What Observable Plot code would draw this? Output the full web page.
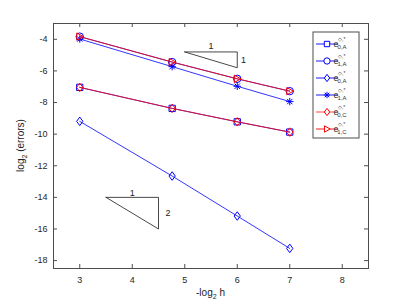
<!DOCTYPE html>
<html>
<head>
<meta charset="utf-8">
<script src="https://cdn.jsdelivr.net/npm/d3@7"></script>
<script src="https://cdn.jsdelivr.net/npm/@observablehq/plot@0.6"></script>
<style>
  html, body { margin: 0; padding: 0; background: #fff; }
  #chart { position: relative; width: 407px; height: 305px; }
</style>
</head>
<body>
<div id="chart"></div>
<script>
// ---- data ----
const xValues = [3, 4.76, 6, 7];
const e0A_square  = [-7.04, -8.37, -9.22, -9.87];
const e1A_circle  = [-3.83, -5.44, -6.50, -7.28];
const e0A_diamond = [-9.19, -12.65, -15.18, -17.23];
const e1A_star    = [-3.98, -5.73, -6.97, -7.94];
const e0C_diamond = [-7.04, -8.37, -9.22, -9.87];
const e1C_triangle = [-3.83, -5.44, -6.50, -7.28];

const seriesNames = ["e0A_sq", "e1A_circ", "e0A_dia", "e1A_star", "e0C_dia", "e1C_tri"];
const seriesSub = ["0,A", "1,A", "0,A", "1,A", "0,C", "1,C"];
const seriesColors = ["#0000ff", "#0000ff", "#0000ff", "#0000ff", "#ff0000", "#ff0000"];
const seriesValues = [e0A_square, e1A_circle, e0A_diamond, e1A_star, e0C_diamond, e1C_triangle];

const xTicks = [3, 4, 5, 6, 7, 8];
const yTicks = [-18, -16, -14, -12, -10, -8, -6, -4];
const xDomain = [2.5, 8.5];
const yDomain = [-18.5, -3];

// slope triangles
const tri1X = [5, 6, 6, 5];
const tri1Y = [-4.8, -4.8, -5.8, -4.8];
const tri1Labels = [{x: 5.5, y: -4.45, t: "1"}, {x: 6.12, y: -5.3, t: "1"}];
const tri2X = [3.5, 4.5, 4.5, 3.5];
const tri2Y = [-14, -14, -16, -14];
const tri2Labels = [{x: 4.0, y: -13.7, t: "1"}, {x: 4.68, y: -15.0, t: "2"}];

// ---- custom symbols ----
const symSquare = {draw(c, s) { const r = Math.sqrt(s / Math.PI) * 0.85; c.moveTo(-r, -r); c.lineTo(r, -r); c.lineTo(r, r); c.lineTo(-r, r); c.closePath(); }};
const symCircle = {draw(c, s) { const r = Math.sqrt(s / Math.PI); c.moveTo(r, 0); c.arc(0, 0, r, 0, 2 * Math.PI); }};
const symDiamond = {draw(c, s) { const r = Math.sqrt(s / Math.PI); c.moveTo(0, -r * 1.15); c.lineTo(r * 0.85, 0); c.lineTo(0, r * 1.15); c.lineTo(-r * 0.85, 0); c.closePath(); }};
const symStar = {draw(c, s) { const r = Math.sqrt(s / Math.PI); const q = r * 0.72;
  c.moveTo(-r, 0); c.lineTo(r, 0); c.moveTo(0, -r); c.lineTo(0, r);
  c.moveTo(-q, -q); c.lineTo(q, q); c.moveTo(-q, q); c.lineTo(q, -q); }};
const symTriRight = {draw(c, s) { const r = Math.sqrt(s / Math.PI); c.moveTo(r, 0); c.lineTo(-r * 0.8, -r); c.lineTo(-r * 0.8, r); c.closePath(); }};
const seriesSymbols = [symSquare, symCircle, symDiamond, symStar, symDiamond, symTriRight];

const table = [];
seriesNames.forEach((name, i) => {
  xValues.forEach((x, j) => table.push({series: name, idx: i, x, y: seriesValues[i][j]}));
});

const W = 407, H = 305;
const mL = 53, mR = 39, mT = 23, mB = 37;
const innerW = W - mL - mR, innerH = H - mT - mB;
const axisColor = "#4d4d4d";
const fontFamily = "'Liberation Sans', Arial, Helvetica, sans-serif";

const marks = [
  Plot.frame({stroke: axisColor, strokeWidth: 1}),
  // inward ticks
  Plot.tickX(xTicks, {x: d => d, insetTop: innerH - 4, stroke: axisColor}),
  Plot.tickX(xTicks, {x: d => d, insetBottom: innerH - 4, stroke: axisColor}),
  Plot.tickY(yTicks, {y: d => d, insetRight: innerW - 4, stroke: axisColor}),
  Plot.tickY(yTicks, {y: d => d, insetLeft: innerW - 4, stroke: axisColor}),
  Plot.axisX(xTicks, {tickSize: 0, tickPadding: 8, fill: "#262626", fontSize: 9, label: null}),
  Plot.axisY(yTicks, {tickSize: 0, tickPadding: 6, fill: "#262626", fontSize: 9, label: null, tickFormat: d => d < 0 ? "-" + Math.abs(d) : String(d)}),
  // slope triangles
  Plot.line(tri1X.map((x, i) => ({x, y: tri1Y[i]})), {x: "x", y: "y", stroke: "#333", strokeWidth: 0.9}),
  Plot.line(tri2X.map((x, i) => ({x, y: tri2Y[i]})), {x: "x", y: "y", stroke: "#333", strokeWidth: 0.9}),
  Plot.text(tri1Labels.concat(tri2Labels), {x: "x", y: "y", text: "t", fontSize: 9, fill: "#222"})
];
seriesNames.forEach((name, i) => {
  const data = table.filter(d => d.idx === i);
  marks.push(Plot.line(data, {x: "x", y: "y", stroke: seriesColors[i], strokeWidth: 0.8}));
  marks.push(Plot.dot(data, {x: "x", y: "y", symbol: () => seriesSymbols[i], r: 3.7, stroke: seriesColors[i], strokeWidth: 1, fill: "none"}));
});

const plot = Plot.plot({
  width: W, height: H,
  marginLeft: mL, marginRight: mR, marginTop: mT, marginBottom: mB,
  style: {fontFamily, background: "#fff", overflow: "visible"},
  x: {domain: xDomain},
  y: {domain: yDomain},
  symbol: {type: "identity"},
  marks
});
document.getElementById("chart").appendChild(plot);

// axis titles
const svg = d3.select(plot);
const xl = svg.append("text").attr("x", mL + innerW / 2).attr("y", 296).attr("text-anchor", "middle")
  .attr("font-size", 10).attr("fill", "#222").attr("font-family", fontFamily);
xl.append("tspan").text("-log");
xl.append("tspan").attr("font-size", 7).attr("dy", 3).text("2");
xl.append("tspan").attr("dy", -3).text(" h");
const yl = svg.append("text").attr("transform", `translate(24,${mT + innerH / 2}) rotate(-90)`).attr("text-anchor", "middle")
  .attr("font-size", 10).attr("fill", "#222").attr("font-family", fontFamily);
yl.append("tspan").text("log");
yl.append("tspan").attr("font-size", 7).attr("dy", 3).text("2");
yl.append("tspan").attr("dy", -3).text(" (errors)");

// legend inside the axes
const lg = svg.append("g").attr("transform", "translate(313,32)");
lg.append("rect").attr("width", 46).attr("height", 106).attr("fill", "#fff").attr("stroke", axisColor).attr("stroke-width", 1);
seriesNames.forEach((name, i) => {
  const y = 12 + i * 17;
  const col = seriesColors[i];
  lg.append("line").attr("x1", 3).attr("x2", 25).attr("y1", y).attr("y2", y).attr("stroke", col).attr("stroke-width", i === 4 ? 1.6 : 0.9).attr("stroke-opacity", i === 4 ? 0.45 : 1);
  const p = d3.path();
  seriesSymbols[i].draw(p, 10 * Math.PI);
  lg.append("path").attr("d", p.toString()).attr("transform", `translate(14,${y})`).attr("fill", "#fff").attr("stroke", col).attr("stroke-width", 1);
  const t = lg.append("text").attr("x", 27).attr("y", y + 3).attr("font-size", 9).attr("fill", "#333").attr("font-family", fontFamily);
  t.append("tspan").text("e");
  t.append("tspan").attr("font-size", 5).attr("dy", -6).attr("dx", -0.5).text("◇,*");
  t.append("tspan").attr("font-size", 6).attr("dy", 8).attr("dx", -8).text(seriesSub[i]);
});
</script>
</body>
</html>
